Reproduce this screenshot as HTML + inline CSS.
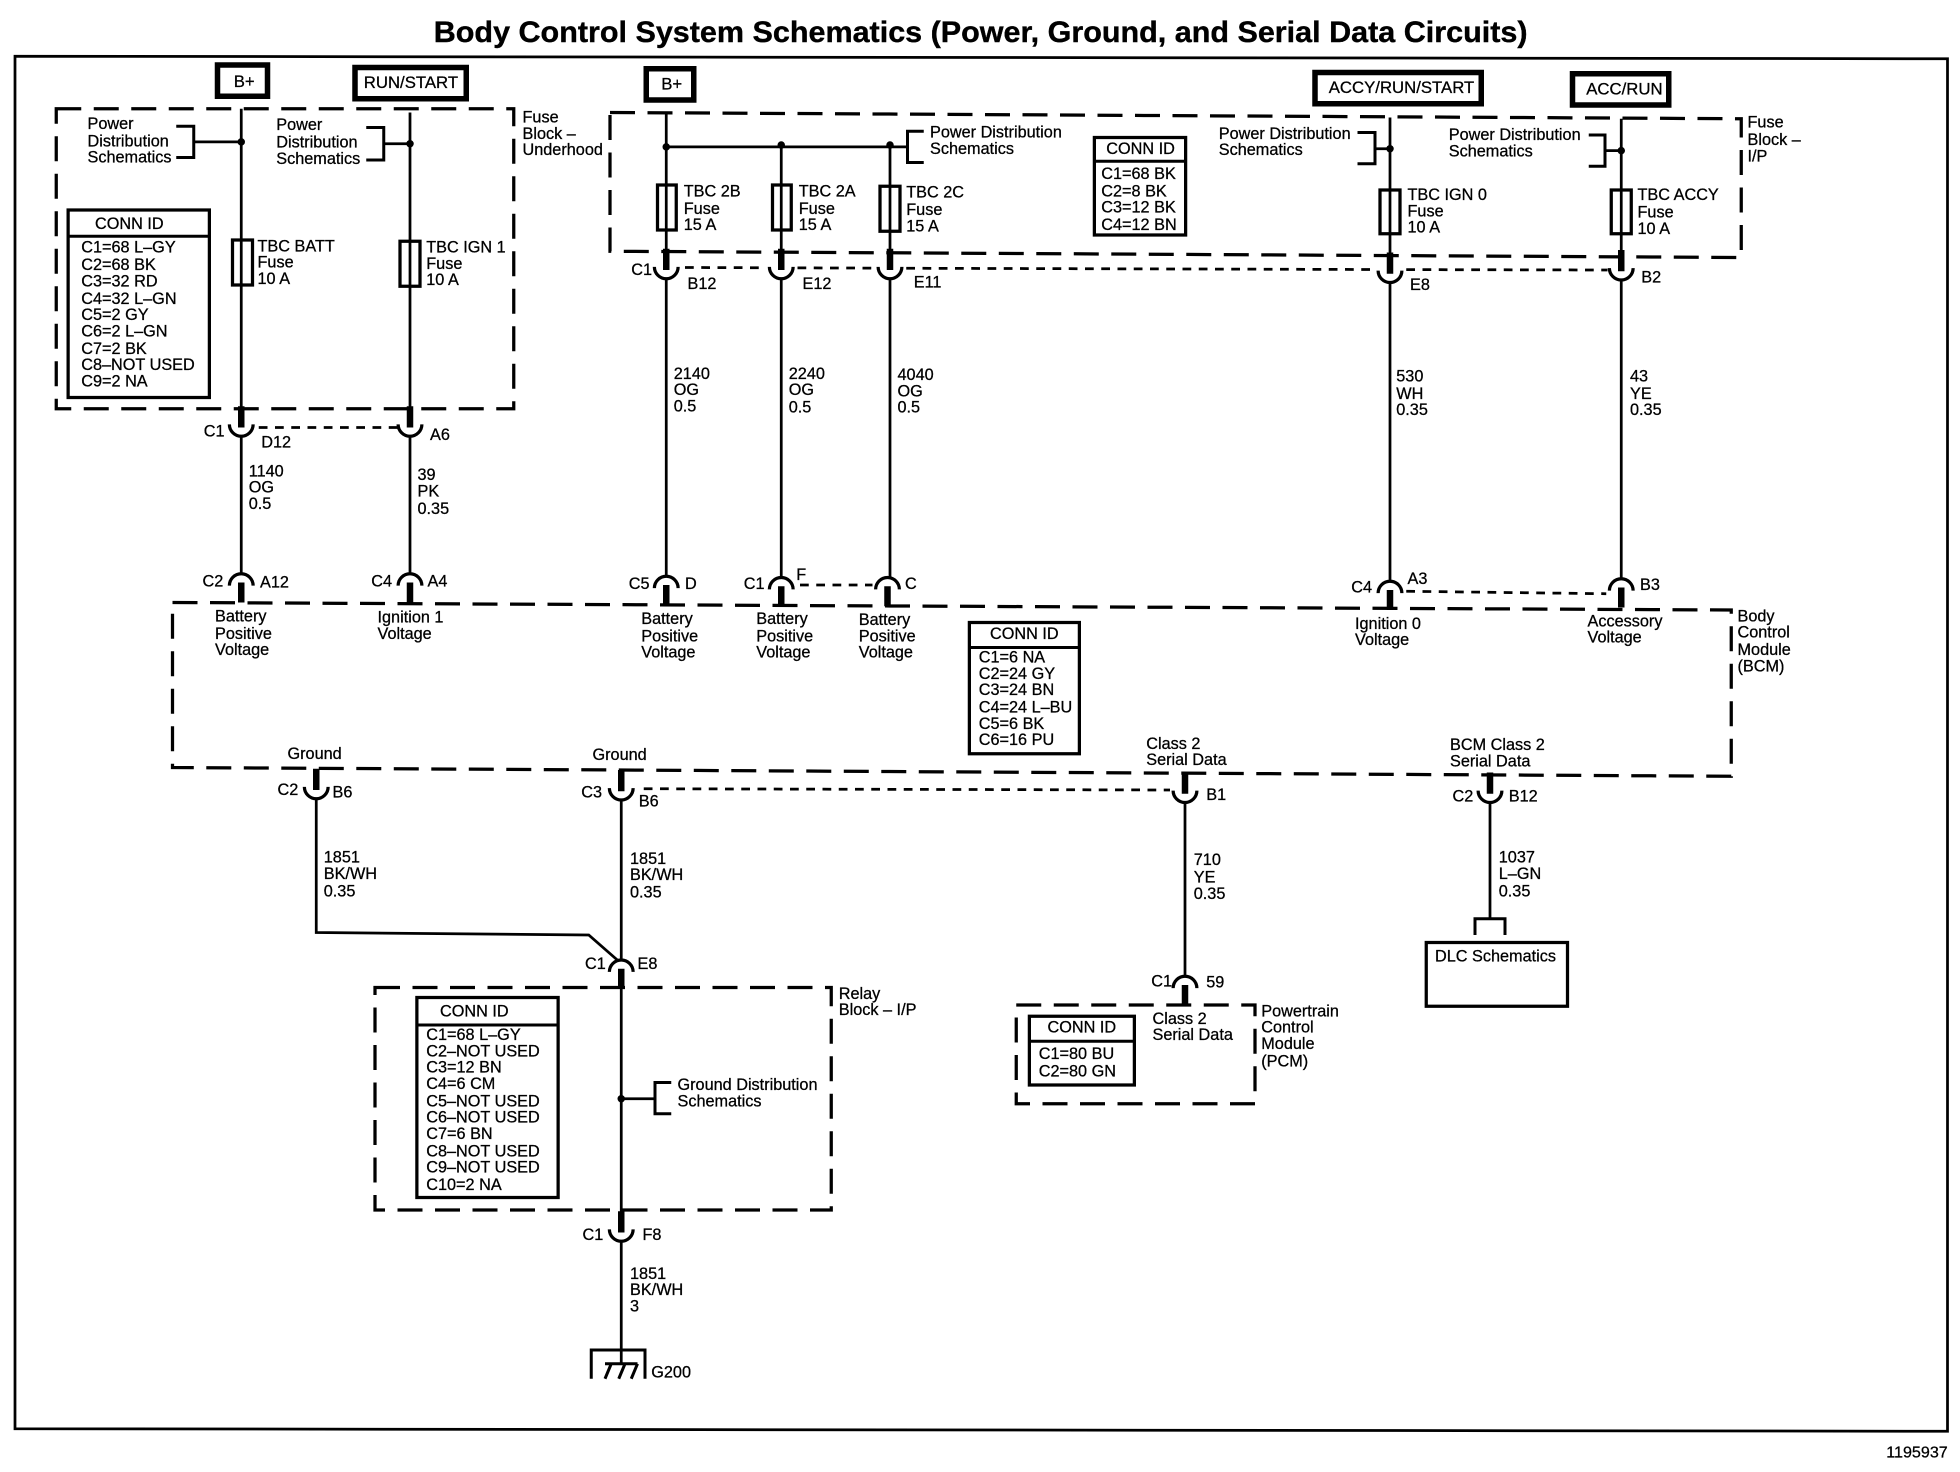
<!DOCTYPE html>
<html><head><meta charset="utf-8"><title>Body Control System Schematics</title>
<style>
html,body{margin:0;padding:0;background:#fff}
svg{display:block}
text{font-family:"Liberation Sans",sans-serif;font-size:13px;fill:#000;dominant-baseline:central;stroke:#000;stroke-width:.22}
.w{fill:none;stroke:#000;stroke-width:2.2}
.d{fill:none;stroke:#000;stroke-width:2.6;stroke-dasharray:20 10}
.o{fill:none;stroke:#000;stroke-width:2.2;stroke-dasharray:7 6}
.b{fill:#fff;stroke:#000;stroke-width:2.6}
.h{fill:#fff;stroke:#000;stroke-width:4.4}
.f{fill:none;stroke:#000;stroke-width:2.4}
.l{font-size:13.4px}
</style></head><body>
<svg width="1960" height="1472" viewBox="0 0 1568 1177.6" xmlns="http://www.w3.org/2000/svg">
<defs>
<g id="u"><rect x="-3" y="-9" width="6" height="8" fill="#fff"/><rect x="-2.6" y="-24" width="5.2" height="17" fill="#000"/><path d="M-9.500 -9.500A9.500 9.500 0 0 0 9.500 -9.500" fill="none" stroke="#000" stroke-width="2.6"/></g>
<g id="n"><rect x="-3" y="1" width="6" height="8" fill="#fff"/><rect x="-2.6" y="7" width="5.200" height="16" fill="#000"/><path d="M-9.500 9.500A9.500 9.500 0 0 1 9.500 9.500" fill="none" stroke="#000" stroke-width="2.6"/></g>
</defs>
<rect width="1568" height="1177.6" fill="#fff"/>
<text x="347" y="26" font-weight="700" style="font-size:24px;font-weight:700;stroke-width:.3" textLength="875" lengthAdjust="spacingAndGlyphs">Body Control System Schematics (Power, Ground, and Serial Data Circuits)</text>
<path d="M12 45L1558 47V1145L12 1143Z" fill="none" stroke="#000" stroke-width="2.2"/>
<text x="1509" y="1162" style="font-size:12.9px">1195937</text>

<!-- dashed blocks -->
<path class="d" d="M45 87H411V327H45Z"/>
<path class="d" d="M488 90L1393 95V206L488 201Z"/>
<path class="d" d="M138 482L1385 488V621L138 614Z"/>
<path class="d" d="M300 790H665V968H300Z"/>
<path class="d" d="M813 804H1004V883H813Z"/>

<!-- fuses -->
<g fill="none" stroke="#000" stroke-width="2.6">
<rect x="186" y="192" width="16" height="36"/><rect x="320" y="193" width="16" height="36"/>
<rect x="526" y="148" width="15" height="36"/><rect x="618" y="148" width="15" height="36"/><rect x="704" y="149" width="16" height="36"/>
<rect x="1104" y="152" width="16" height="35"/><rect x="1289" y="152" width="16" height="35"/>
</g>

<!-- wires -->
<path class="w" d="M193 87V459M328 90V459M533 90V461M625 118V462M712 118V462M1112 94V465M1297 95V463"/>
<path class="w" d="M533 117.500H726M155 113.500H193M307 115H328M1100 119H1112M1284 120.500H1297"/>
<path class="w" d="M253 620V746L471 748L495 769M497 620V1090M948 622V780M1192 622V736M497 879H524"/>
<path class="f" d="M141 101H155V126H141M293 102H307V128H293M739 105H726V130H739M1086 106H1100V131H1086M1271 108H1284V133H1271M537 866H524V891H537"/>
<circle cx="193" cy="113.500" r="3"/><circle cx="328" cy="115" r="3"/><circle cx="533" cy="117.500" r="3"/><circle cx="625" cy="116" r="3"/><circle cx="712" cy="116" r="3"/><circle cx="1112" cy="119" r="3"/><circle cx="1297" cy="120.500" r="3"/><circle cx="497" cy="879" r="3"/>

<!-- connectors -->
<use href="#u" x="193" y="349"/><use href="#u" x="328" y="349"/>
<use href="#u" x="533" y="223"/><use href="#u" x="625" y="223"/><use href="#u" x="712" y="223"/><use href="#u" x="1112" y="226"/><use href="#u" x="1297" y="224"/>
<use href="#u" x="253" y="639"/><use href="#u" x="497" y="640"/><use href="#u" x="948" y="642"/><use href="#u" x="1192" y="642"/><use href="#u" x="497" y="993"/>
<use href="#n" x="193" y="459"/><use href="#n" x="328" y="459"/><use href="#n" x="533" y="461"/><use href="#n" x="625" y="462"/><use href="#n" x="710" y="462"/><use href="#n" x="1112" y="465"/><use href="#n" x="1297" y="463"/>
<use href="#n" x="497" y="768"/><use href="#n" x="948" y="781"/>
<path class="o" d="M207 342H318M548 214L613 214.200M638 214.300L700 214.500M725 214.600L1100 215.600M1125 215.700L1286 216M640 468H698M1125 473L1285 475M515 631L936 632"/>

<!-- header boxes -->
<rect class="h" x="174" y="52" width="40" height="25"/><rect class="h" x="284" y="54" width="89" height="25"/><rect class="h" x="517" y="55" width="38" height="25"/><rect class="h" x="1052" y="58" width="133" height="25"/><rect class="h" x="1258" y="59" width="77" height="25"/>
<text class="l" x="187" y="65">B+</text><text class="l" x="291" y="66">RUN/START</text><text class="l" x="529" y="67">B+</text><text class="l" x="1063" y="70">ACCY/RUN/START</text><text class="l" x="1269" y="71">ACC/RUN</text>

<!-- conn id boxes -->
<rect class="b" x="54.500" y="168" width="113" height="150"/><path class="f" d="M54 189H168"/>
<rect class="b" x="875.500" y="110" width="73" height="78"/><path class="f" d="M875 129H949"/>
<rect class="b" x="775.500" y="498" width="88" height="105"/><path class="f" d="M775 518H864"/>
<rect class="b" x="333.500" y="798" width="113" height="160"/><path class="f" d="M333 820H447"/>
<rect class="b" x="823.500" y="813" width="84" height="55"/><path class="f" d="M823 833H908"/>
<rect class="b" x="1141" y="754" width="113" height="51"/>
<path class="f" d="M1180 748V735H1204V748"/>

<!-- ground -->
<path class="f" d="M473 1103V1080H516V1103M484 1091H510M484 1103L489 1091M495 1103L500 1091M505 1103L510 1091"/>

<!-- left block text -->
<text x="70" y="99">Power</text><text x="70" y="113">Distribution</text><text x="70" y="126">Schematics</text>
<text x="221" y="100">Power</text><text x="221" y="114">Distribution</text><text x="221" y="127">Schematics</text>
<text x="418" y="94">Fuse</text><text x="418" y="107">Block –</text><text x="418" y="120">Underhood</text>
<text x="206" y="197">TBC BATT</text><text x="206" y="210">Fuse</text><text x="206" y="223">10 A</text>
<text x="341" y="198">TBC IGN 1</text><text x="341" y="211">Fuse</text><text x="341" y="224">10 A</text>
<text x="76" y="179">CONN ID</text>
<text x="65" y="198">C1=68 L–GY</text><text x="65" y="212">C2=68 BK</text><text x="65" y="225">C3=32 RD</text><text x="65" y="239">C4=32 L–GN</text><text x="65" y="252">C5=2 GY</text><text x="65" y="265">C6=2 L–GN</text><text x="65" y="279">C7=2 BK</text><text x="65" y="292">C8–NOT USED</text><text x="65" y="305">C9=2 NA</text>
<text x="163" y="345">C1</text><text x="209" y="354">D12</text><text x="344" y="348">A6</text>
<text x="199" y="377">1140</text><text x="199" y="390">OG</text><text x="199" y="403">0.5</text>
<text x="334" y="380">39</text><text x="334" y="393">PK</text><text x="334" y="407">0.35</text>
<text x="162" y="465">C2</text><text x="208" y="466">A12</text><text x="297" y="465">C4</text><text x="342" y="465">A4</text>
<text x="172" y="493">Battery</text><text x="172" y="507">Positive</text><text x="172" y="520">Voltage</text>
<text x="302" y="494">Ignition 1</text><text x="302" y="507">Voltage</text>

<!-- I/P block text -->
<text x="744" y="106">Power Distribution</text><text x="744" y="119">Schematics</text>
<text x="547" y="153">TBC 2B</text><text x="547" y="167">Fuse</text><text x="547" y="180">15 A</text>
<text x="639" y="153">TBC 2A</text><text x="639" y="167">Fuse</text><text x="639" y="180">15 A</text>
<text x="725" y="154">TBC 2C</text><text x="725" y="168">Fuse</text><text x="725" y="181">15 A</text>
<text x="885" y="119">CONN ID</text>
<text x="881" y="139">C1=68 BK</text><text x="881" y="153">C2=8 BK</text><text x="881" y="166">C3=12 BK</text><text x="881" y="180">C4=12 BN</text>
<text x="975" y="107">Power Distribution</text><text x="975" y="120">Schematics</text>
<text x="1159" y="108">Power Distribution</text><text x="1159" y="121">Schematics</text>
<text x="1126" y="156">TBC IGN 0</text><text x="1126" y="169">Fuse</text><text x="1126" y="182">10 A</text>
<text x="1310" y="156">TBC ACCY</text><text x="1310" y="170">Fuse</text><text x="1310" y="183">10 A</text>
<text x="1398" y="98">Fuse</text><text x="1398" y="112">Block –</text><text x="1398" y="125">I/P</text>
<text x="505" y="216">C1</text><text x="550" y="227">B12</text><text x="642" y="227">E12</text><text x="731" y="226">E11</text><text x="1128" y="228">E8</text><text x="1313" y="222">B2</text>
<text x="539" y="299">2140</text><text x="539" y="312">OG</text><text x="539" y="325">0.5</text>
<text x="631" y="299">2240</text><text x="631" y="312">OG</text><text x="631" y="326">0.5</text>
<text x="718" y="300">4040</text><text x="718" y="313">OG</text><text x="718" y="326">0.5</text>
<text x="1117" y="301">530</text><text x="1117" y="315">WH</text><text x="1117" y="328">0.35</text>
<text x="1304" y="301">43</text><text x="1304" y="315">YE</text><text x="1304" y="328">0.35</text>

<!-- BCM text -->
<text x="503" y="467">C5</text><text x="548" y="467">D</text><text x="595" y="467">C1</text><text x="637" y="460">F</text><text x="724" y="467">C</text><text x="1081" y="470">C4</text><text x="1126" y="463">A3</text><text x="1312" y="468">B3</text>
<text x="513" y="495">Battery</text><text x="513" y="509">Positive</text><text x="513" y="522">Voltage</text>
<text x="605" y="495">Battery</text><text x="605" y="509">Positive</text><text x="605" y="522">Voltage</text>
<text x="687" y="496">Battery</text><text x="687" y="509">Positive</text><text x="687" y="522">Voltage</text>
<text x="1084" y="499">Ignition 0</text><text x="1084" y="512">Voltage</text>
<text x="1270" y="497">Accessory</text><text x="1270" y="510">Voltage</text>
<text x="792" y="507">CONN ID</text>
<text x="783" y="526">C1=6 NA</text><text x="783" y="539">C2=24 GY</text><text x="783" y="552">C3=24 BN</text><text x="783" y="566">C4=24 L–BU</text><text x="783" y="579">C5=6 BK</text><text x="783" y="592">C6=16 PU</text>
<text x="1390" y="493">Body</text><text x="1390" y="506">Control</text><text x="1390" y="520">Module</text><text x="1390" y="533">(BCM)</text>
<text x="230" y="603">Ground</text><text x="474" y="604">Ground</text>
<text x="222" y="632">C2</text><text x="266" y="634">B6</text><text x="465" y="634">C3</text><text x="511" y="641">B6</text>
<text x="917" y="595">Class 2</text><text x="917" y="608">Serial Data</text>
<text x="1160" y="596">BCM Class 2</text><text x="1160" y="609">Serial Data</text>
<text x="965" y="636">B1</text><text x="1162" y="637">C2</text><text x="1207" y="637">B12</text>

<!-- lower text -->
<text x="259" y="686">1851</text><text x="259" y="699">BK/WH</text><text x="259" y="713">0.35</text>
<text x="504" y="687">1851</text><text x="504" y="700">BK/WH</text><text x="504" y="714">0.35</text>
<text x="955" y="688">710</text><text x="955" y="702">YE</text><text x="955" y="715">0.35</text>
<text x="1199" y="686">1037</text><text x="1199" y="699">L–GN</text><text x="1199" y="713">0.35</text>
<text x="468" y="771">C1</text><text x="510" y="771">E8</text><text x="921" y="785">C1</text><text x="965" y="786">59</text>
<text x="1148" y="765">DLC Schematics</text>
<text x="922" y="815">Class 2</text><text x="922" y="828">Serial Data</text>
<text x="1009" y="809">Powertrain</text><text x="1009" y="822">Control</text><text x="1009" y="835">Module</text><text x="1009" y="849">(PCM)</text>
<text x="838" y="822">CONN ID</text><text x="831" y="843">C1=80 BU</text><text x="831" y="857">C2=80 GN</text>
<text x="671" y="795">Relay</text><text x="671" y="808">Block – I/P</text>
<text x="352" y="809">CONN ID</text>
<text x="341" y="828">C1=68 L–GY</text><text x="341" y="841">C2–NOT USED</text><text x="341" y="854">C3=12 BN</text><text x="341" y="867">C4=6 CM</text><text x="341" y="881">C5–NOT USED</text><text x="341" y="894">C6–NOT USED</text><text x="341" y="907">C7=6 BN</text><text x="341" y="921">C8–NOT USED</text><text x="341" y="934">C9–NOT USED</text><text x="341" y="948">C10=2 NA</text>
<text x="542" y="868">Ground Distribution</text><text x="542" y="881">Schematics</text>
<text x="466" y="988">C1</text><text x="514" y="988">F8</text>
<text x="504" y="1019">1851</text><text x="504" y="1032">BK/WH</text><text x="504" y="1045">3</text>
<text x="521" y="1098">G200</text>
</svg>
</body></html>
